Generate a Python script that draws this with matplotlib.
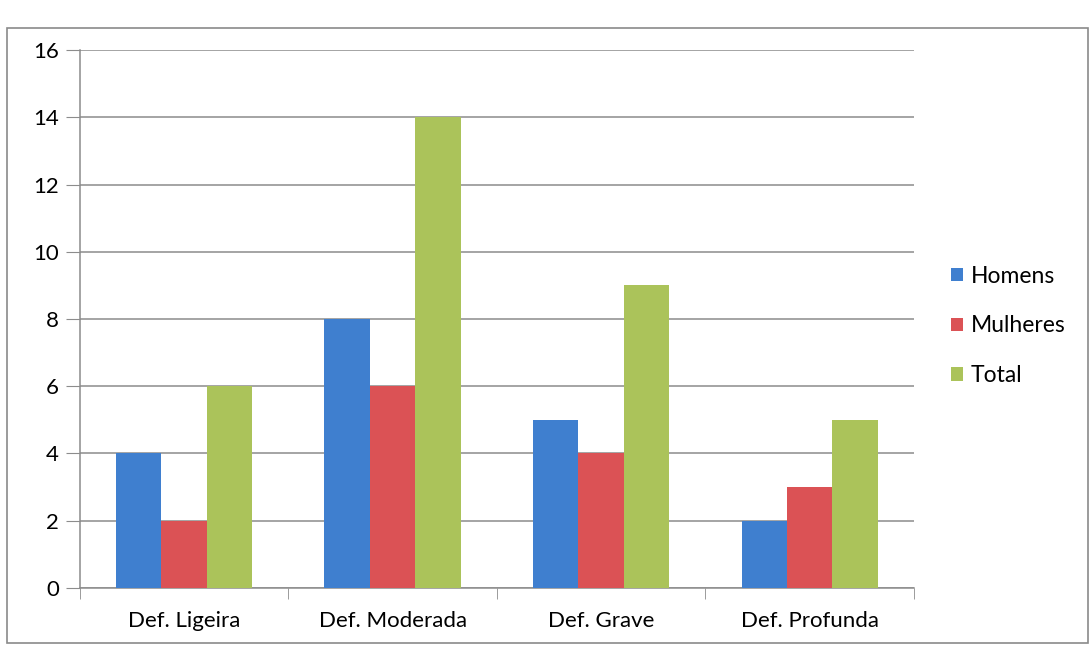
import numpy as np
import matplotlib
matplotlib.use("Agg")
import matplotlib.pyplot as plt
from matplotlib.patches import Rectangle

plt.rcParams["font.family"] = ["Lato", "DejaVu Sans"]

# Data
categories = ["Def. Ligeira", "Def. Moderada", "Def. Grave", "Def. Profunda"]
homens = [4, 8, 5, 2]
mulheres = [2, 6, 4, 3]
total = [6, 14, 9, 5]
series_names = ["Homens", "Mulheres", "Total"]
colors = ["#3f7fcf", "#db5255", "#abc35a"]

fig = plt.figure(figsize=(10.92, 6.51), dpi=100)
ax = fig.add_axes([0.073, 0.097, 0.764, 0.826])

x = np.arange(len(categories))
w = 0.218
for i, (vals, name, c) in enumerate(zip([homens, mulheres, total], series_names, colors)):
    ax.bar(x + (i - 1) * w, vals, width=w, color=c, label=name, zorder=3)

ax.set_xlim(-0.5, len(categories) - 0.5)
ax.set_ylim(0, 16)
ax.set_yticks(range(0, 17, 2))
ax.yaxis.grid(True, color="#8c8c8c", linewidth=1.1, zorder=0)
ax.set_xticks(x)
ax.set_xticklabels(categories, fontsize=16)
ax.set_xticks(np.arange(-0.5, len(categories), 1), minor=True)
ax.tick_params(axis="x", which="major", length=0, pad=17)
ax.tick_params(axis="x", which="minor", length=8, color="#8c8c8c")
ax.tick_params(axis="y", length=10, color="#8c8c8c", labelsize=16, pad=5)

for s in ["top", "right"]:
    ax.spines[s].set_visible(False)
for s in ["left", "bottom"]:
    ax.spines[s].set_color("#8c8c8c")
    ax.spines[s].set_linewidth(1.1)

ax.legend(loc="center left", bbox_to_anchor=(1.02, 0.487), frameon=False,
          fontsize=16.5, handlelength=0.5, handleheight=0.5,
          handletextpad=0.35, labelspacing=1.25)

# outer chart border
fig.patches.append(Rectangle((0.006, 0.012), 0.99, 0.945, transform=fig.transFigure,
                             fill=False, edgecolor="#8a8a8a", linewidth=1.2))

fig.savefig("out.png", dpi=100)
